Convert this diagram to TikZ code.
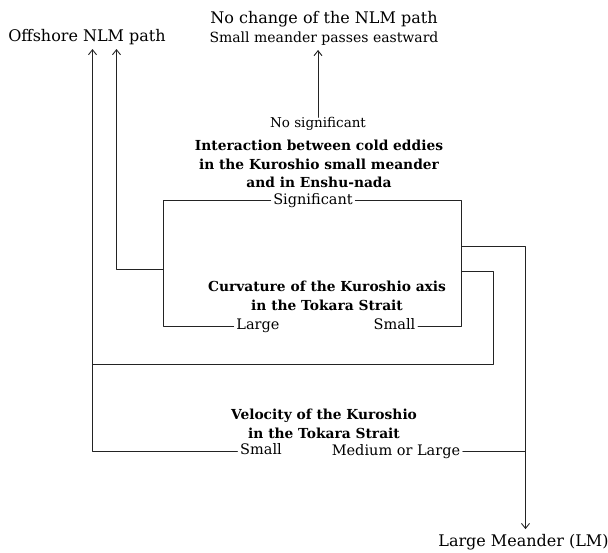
\documentclass[tikz,border=0pt]{standalone}
\usepackage{fontspec}
\setmainfont{DejaVu Serif}
\usepackage{tikz}
\usetikzlibrary{arrows.meta}

\begin{document}
\begin{tikzpicture}[x=1pt, y=-1pt, line join=round, line cap=round,
    outcome/.style={font=\fontsize{16}{19}\selectfont, inner sep=0pt, align=center},
    factor/.style={font=\fontsize{13.8}{18.5}\selectfont\bfseries, inner sep=0pt, align=center},
    answer/.style={font=\fontsize{14.5}{19}\selectfont, inner sep=2.5pt, text height=0.75em, text depth=0.05em},
    link/.style={draw=linegray, line width=0.9pt},
    arr/.style={link, shorten >=4.5pt, -{Straight Barb[length=5pt,width=8pt]}}]

    % Define custom colors
    \definecolor{linegray}{RGB}{35,35,35}

    \useasboundingbox (0,0) rectangle (608,552);

    % =======================================================
    % OUTCOMES
    % =======================================================
    \node[outcome, anchor=base] (offshore) at (87,41) {Offshore NLM path};
    \node[outcome, anchor=south] (nochange) at (324,45.5)
        {No change of the NLM path\\{\fontsize{14}{19}\selectfont Small meander passes eastward}};
    \node[outcome, anchor=base] (lm) at (523.5,546) {Large Meander (LM)};

    % =======================================================
    % QUESTIONS AND ANSWERS
    % =======================================================
    % 1. Cold eddies
    \node[answer, font=\fontsize{13.5}{19}\selectfont] (nosig) at (318,124) {No significant};
    \node[factor] (interact) at (319,164)
        {Interaction between cold eddies\\in the Kuroshio small meander\\and in Enshu-nada};
    \node[answer] (sig) at (313,200.5) {Significant};

    % 2. Curvature
    \node[factor] (curv) at (327,296) {Curvature of the Kuroshio axis\\in the Tokara Strait};
    \node[answer] (large1) at (258,326) {Large};
    \node[answer] (small1) at (394.5,326) {Small};

    % 3. Velocity
    \node[factor] (veloc) at (324,424) {Velocity of the Kuroshio\\in the Tokara Strait};
    \node[answer] (small2) at (261,451) {Small};
    \node[answer] (medlarge) at (396,451.5) {Medium or Large};

    % junction points
    \coordinate (boxL) at (163.5,200.5);
    \coordinate (boxR) at (461.5,200.5);
    \coordinate (jL) at (163.5,269);
    \coordinate (colI) at (116.5,269);
    \coordinate (jR1) at (461.5,246);
    \coordinate (colLM) at (525.5,246);
    \coordinate (jR2) at (461.5,271.5);
    \coordinate (loopR) at (493,364);
    \coordinate (colO) at (92.5,364);

    % =======================================================
    % CONNECTORS
    % =======================================================
    % box round the curvature question
    \draw[link] (sig.west) -| (boxL |- large1.west) -- (large1.west);
    \draw[link] (sig.east) -| (boxR |- small1.east) -- (small1.east);

    % up to the outcomes
    \draw[arr] (nosig.north) -- (nosig.north |- nochange.south);
    \draw[arr] (jL) -- (colI) -- (colI |- offshore.south);
    \draw[arr] (small2.west) -| (colO |- offshore.south);

    % outer loop
    \draw[link] (jR2) -| (loopR) -- (colO);

    % down to the large meander
    \draw[arr] (jR1) -| (colLM |- lm.north);
    \draw[link] (medlarge.east) -- (medlarge.east -| colLM);

\end{tikzpicture}
\end{document}
